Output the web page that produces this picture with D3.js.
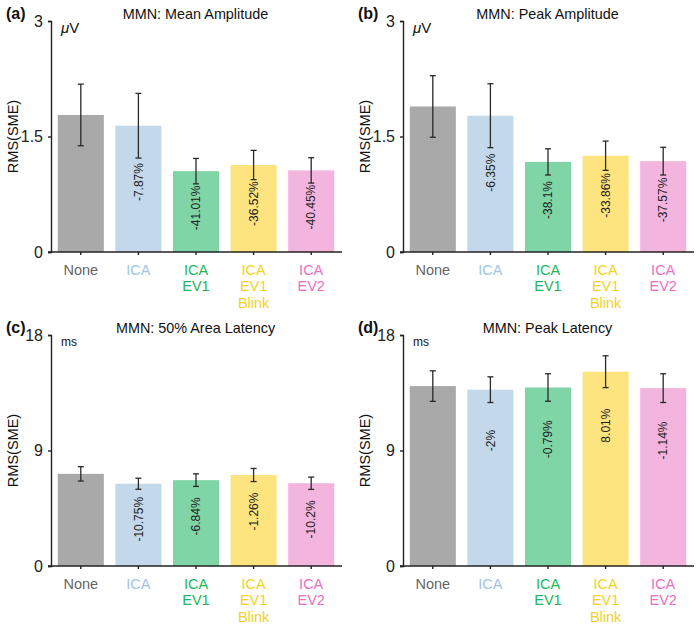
<!DOCTYPE html>
<html>
<head>
<meta charset="utf-8">
<script src="https://cdn.jsdelivr.net/npm/d3@7"></script>
<style>
  html, body { margin: 0; padding: 0; background: #fff; }
  svg { display: block; font-family: "Liberation Sans", Arial, Helvetica, sans-serif; }
</style>
</head>
<body>
<svg id="chart" width="700" height="628"></svg>
<script>
// ---------- data ----------
const categories = [["None"], ["ICA"], ["ICA", "EV1"], ["ICA", "EV1", "Blink"], ["ICA", "EV2"]];

const meanAmp     = [1.78, 1.64, 1.05, 1.13, 1.06];
const meanAmpErr  = [0.40, 0.42, 0.165, 0.19, 0.165];
const meanAmpPct  = ["", "-7.87%", "-41.01%", "-36.52%", "-40.45%"];

const peakAmp     = [1.89, 1.77, 1.17, 1.25, 1.18];
const peakAmpErr  = [0.40, 0.415, 0.17, 0.19, 0.18];
const peakAmpPct  = ["", "-6.35%", "-38.1%", "-33.86%", "-37.57%"];

const areaLat     = [7.18, 6.41, 6.69, 7.09, 6.45];
const areaLatErr  = [0.56, 0.43, 0.49, 0.51, 0.48];
const areaLatPct  = ["", "-10.75%", "-6.84%", "-1.26%", "-10.2%"];

const peakLat     = [14.02, 13.74, 13.91, 15.14, 13.86];
const peakLatErr  = [1.19, 1.00, 1.07, 1.24, 1.12];
const peakLatPct  = ["", "-2%", "-0.79%", "8.01%", "-1.14%"];

const ampTicks = [0, 1.5, 3];
const latTicks = [0, 9, 18];

const panelLetters = ["(a)", "(b)", "(c)", "(d)"];
const panelTitles = ["MMN: Mean Amplitude", "MMN: Peak Amplitude", "MMN: 50% Area Latency", "MMN: Peak Latency"];
const units = [["\u03BC", "V"], ["\u03BC", "V"], ["", "ms"], ["", "ms"]];
const yLabel = "RMS(SME)";

// ---------- styles ----------
const barColors  = ["#a9a9a9", "#c3d8ea", "#80d5a7", "#fde47e", "#f3b4de"];
const textColors = ["#666666", "#9fc4e4", "#1db55c", "#f6d21a", "#ee6ec2"];

const panels = [
  { values: meanAmp, errs: meanAmpErr, pcts: meanAmpPct, ticks: ampTicks, x0: 51,  yTop: 21,  yBot: 252, labelOff: 24 },
  { values: peakAmp, errs: peakAmpErr, pcts: peakAmpPct, ticks: ampTicks, x0: 403, yTop: 21,  yBot: 252, labelOff: 25 },
  { values: areaLat, errs: areaLatErr, pcts: areaLatPct, ticks: latTicks, x0: 51,  yTop: 335, yBot: 566, labelOff: 30 },
  { values: peakLat, errs: peakLatErr, pcts: peakLatPct, ticks: latTicks, x0: 403, yTop: 335, yBot: 566, labelOff: 38 }
];
const plotW = 289;

const svg = d3.select("#chart");

panels.forEach((p, pi) => {
  const g = svg.append("g");
  const idx = d3.range(categories.length);
  const x = d3.scaleBand().domain(idx).range([p.x0 + 1, p.x0 + plotW]).paddingInner(0.2).paddingOuter(0.1);
  const y = d3.scaleLinear().domain([p.ticks[0], p.ticks[p.ticks.length - 1]]).range([p.yBot, p.yTop]);

  // bars
  g.selectAll("rect.bar").data(p.values).join("rect")
    .attr("class", "bar")
    .attr("x", (d, i) => x(i))
    .attr("width", x.bandwidth())
    .attr("y", d => y(d))
    .attr("height", d => y(0) - y(d))
    .attr("fill", (d, i) => barColors[i]);

  // error bars
  const eb = g.selectAll("g.err").data(p.values).join("g").attr("class", "err")
    .attr("stroke", "#2a2a2a").attr("stroke-width", 1.3);
  eb.append("line")
    .attr("x1", (d, i) => x(i) + x.bandwidth() / 2)
    .attr("x2", (d, i) => x(i) + x.bandwidth() / 2)
    .attr("y1", (d, i) => y(d + p.errs[i]))
    .attr("y2", (d, i) => y(d - p.errs[i]));
  eb.append("line")
    .attr("x1", (d, i) => x(i) + x.bandwidth() / 2 - 3)
    .attr("x2", (d, i) => x(i) + x.bandwidth() / 2 + 3)
    .attr("y1", (d, i) => y(d + p.errs[i]))
    .attr("y2", (d, i) => y(d + p.errs[i]));
  eb.append("line")
    .attr("x1", (d, i) => x(i) + x.bandwidth() / 2 - 3)
    .attr("x2", (d, i) => x(i) + x.bandwidth() / 2 + 3)
    .attr("y1", (d, i) => y(d - p.errs[i]))
    .attr("y2", (d, i) => y(d - p.errs[i]));

  // percentage labels (rotated)
  g.selectAll("text.pct").data(p.values).join("text")
    .attr("class", "pct")
    .attr("transform", (d, i) => {
      const cx = x(i) + x.bandwidth() / 2;
      const cy = y(d - p.errs[i]) + p.labelOff;
      return `translate(${cx},${cy}) rotate(-90)`;
    })
    .attr("text-anchor", "middle")
    .attr("dy", "0.35em")
    .attr("font-size", 12)
    .attr("fill", "#222")
    .text((d, i) => p.pcts[i]);

  // y axis
  const yAxis = d3.axisLeft(y).tickValues(p.ticks).tickSize(3).tickSizeOuter(3).tickPadding(5)
    .tickFormat(d3.format(""));
  const ya = g.append("g").attr("transform", `translate(${p.x0},0)`).call(yAxis);
  ya.select(".domain").attr("stroke", "#222").attr("stroke-width", 1.4);
  ya.selectAll(".tick line").attr("stroke", "#222").attr("stroke-width", 1.4);
  ya.selectAll(".tick text").attr("font-size", 16).attr("fill", "#222")
    .attr("font-family", "Liberation Sans, Arial, sans-serif");

  // x axis
  const xAxis = d3.axisBottom(x).tickSize(3).tickSizeOuter(0).tickFormat("");
  const xa = g.append("g").attr("transform", `translate(0,${p.yBot})`).call(xAxis);
  xa.select(".domain").attr("d", `M${p.x0 - 3},0H${p.x0 + plotW + 2}`)
    .attr("stroke", "#222").attr("stroke-width", 1.4);
  xa.selectAll(".tick line").attr("stroke", "#222").attr("stroke-width", 1.4);

  // category labels
  categories.forEach((lines, i) => {
    const t = g.append("text")
      .attr("x", x(i) + x.bandwidth() / 2)
      .attr("y", p.yBot + 23)
      .attr("text-anchor", "middle")
      .attr("font-size", 14.5)
      .attr("fill", textColors[i]);
    lines.forEach((ln, li) => {
      t.append("tspan").attr("x", x(i) + x.bandwidth() / 2).attr("dy", li === 0 ? 0 : 16.3).text(ln);
    });
  });

  // title
  g.append("text")
    .attr("x", p.x0 + plotW / 2)
    .attr("y", p.yTop - 2)
    .attr("text-anchor", "middle")
    .attr("font-size", 14.4)
    .attr("fill", "#111")
    .text(panelTitles[pi]);

  // panel letter
  g.append("text")
    .attr("x", p.x0 - 45)
    .attr("y", p.yTop - 2)
    .attr("font-size", 16)
    .attr("font-weight", "bold")
    .attr("fill", "#111")
    .text(panelLetters[pi]);

  // unit
  const u = g.append("text")
    .attr("x", p.x0 + 10)
    .attr("y", p.yTop + (pi < 2 ? 12 : 11))
    .attr("font-size", pi < 2 ? 15 : 12)
    .attr("fill", "#111");
  if (units[pi][0]) u.append("tspan").attr("font-style", "italic").text(units[pi][0]);
  u.append("tspan").text(units[pi][1]);

  // y label
  g.append("text")
    .attr("transform", `translate(${p.x0 - 33},${(p.yTop + p.yBot) / 2}) rotate(-90)`)
    .attr("text-anchor", "middle")
    .attr("font-size", 14.5)
    .attr("fill", "#111")
    .text(yLabel);
});
</script>
</body>
</html>
